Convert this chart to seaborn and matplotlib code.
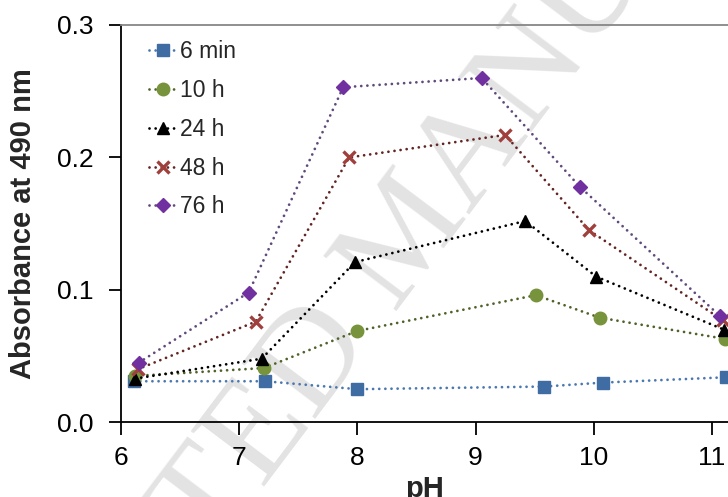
import matplotlib
matplotlib.use("Agg")
import matplotlib.pyplot as plt
import seaborn as sns
import pandas as pd

sns.set_theme(style="white")
plt.rcParams['font.family'] = ['Liberation Sans', 'DejaVu Sans']

series_names = ["6 min", "10 h", "24 h", "48 h", "76 h"]

ph_6min = [6.11, 7.22, 8.00, 9.58, 10.08, 11.12]
abs_6min = [0.031, 0.031, 0.025, 0.027, 0.030, 0.034]

ph_10h = [6.12, 7.21, 8.00, 9.51, 10.05, 11.11]
abs_10h = [0.035, 0.041, 0.069, 0.096, 0.079, 0.063]

ph_24h = [6.12, 7.19, 7.98, 9.42, 10.02, 11.10]
abs_24h = [0.033, 0.048, 0.121, 0.152, 0.110, 0.070]

ph_48h = [6.14, 7.14, 7.93, 9.25, 9.96, 11.09]
abs_48h = [0.040, 0.076, 0.200, 0.217, 0.145, 0.077]

ph_76h = [6.15, 7.08, 7.88, 9.05, 9.88, 11.07]
abs_76h = [0.045, 0.098, 0.253, 0.260, 0.178, 0.080]

x_ticks = [6, 7, 8, 9, 10, 11]
y_ticks = [0.0, 0.1, 0.2, 0.3]

styles = [
    dict(line="#4a78b0", face="#3f6ca3", edge="#3f6ca3", marker="s", ms=8, mew=1),
    dict(line="#4f6228", face="#77933c", edge="#77933c", marker="o", ms=9, mew=1),
    dict(line="#000000", face="#000000", edge="#000000", marker="^", ms=9, mew=1),
    dict(line="#632523", face="#a0403d", edge="#a0403d", marker="x", ms=9, mew=2.4),
    dict(line="#604a7b", face="#7030a0", edge="#7030a0", marker="D", ms=7, mew=1),
]

xs = [ph_6min, ph_10h, ph_24h, ph_48h, ph_76h]
ys = [abs_6min, abs_10h, abs_24h, abs_48h, abs_76h]

fig = plt.figure(figsize=(7.28, 4.97), dpi=100)
ax = fig.add_axes([0.1662, 0.1503, 0.8338, 0.7994])
ax.patch.set_visible(False)

fig.text(411 / 728, 1 - 236 / 497, "ACCEPTED MANUSCRIPT", fontsize=100,
         family="Liberation Serif", color="#e3e3e3", rotation=53,
         rotation_mode="anchor", ha="center", va="center", zorder=-5)

for name, x, y, st in zip(series_names, xs, ys, styles):
    df = pd.DataFrame({"pH": x, "abs": y})
    sns.lineplot(data=df, x="pH", y="abs", ax=ax, sort=False, label=name,
                 color=st["line"], linestyle=(0, (0.01, 2.2)), linewidth=2.0,
                 marker=st["marker"], markersize=st["ms"],
                 markerfacecolor=st["face"], markeredgecolor=st["edge"],
                 markeredgewidth=st["mew"], dash_capstyle="round",
                 clip_on=False, zorder=3)

ax.set_xlim(6, 11.135)
ax.set_ylim(0, 0.3)
ax.set_xticks(x_ticks)
ax.set_yticks(y_ticks)
ax.set_yticklabels([f"{v:.1f}" for v in y_ticks])
ax.set_xticklabels([str(v) for v in x_ticks])

for side in ["left", "bottom"]:
    ax.spines[side].set_color("black")
    ax.spines[side].set_linewidth(1.3)
ax.spines["top"].set_color("#878787")
ax.spines["top"].set_linewidth(1.3)
ax.spines["right"].set_visible(False)

ax.tick_params(axis="both", which="major", direction="out", length=9, width=1.3,
               color="black", labelcolor="black")
ax.tick_params(axis="y", labelsize=19, pad=11, left=True)
ax.tick_params(axis="x", labelsize=19, pad=8, bottom=True)
ax.yaxis.get_major_ticks()[-1].tick1line.set_color("#878787")

ax.set_xlabel("pH", fontsize=21, fontweight="bold", labelpad=4)
ax.set_ylabel("Absorbance at 490 nm", fontsize=21, fontweight="bold", labelpad=14)

leg = ax.legend(loc="upper left", bbox_to_anchor=(0.046, 0.962), frameon=False,
                fontsize=16.5, handlelength=1.25, handletextpad=0.12,
                labelspacing=0.69, borderpad=0, borderaxespad=0)

fig.savefig("out.png", dpi=100)
